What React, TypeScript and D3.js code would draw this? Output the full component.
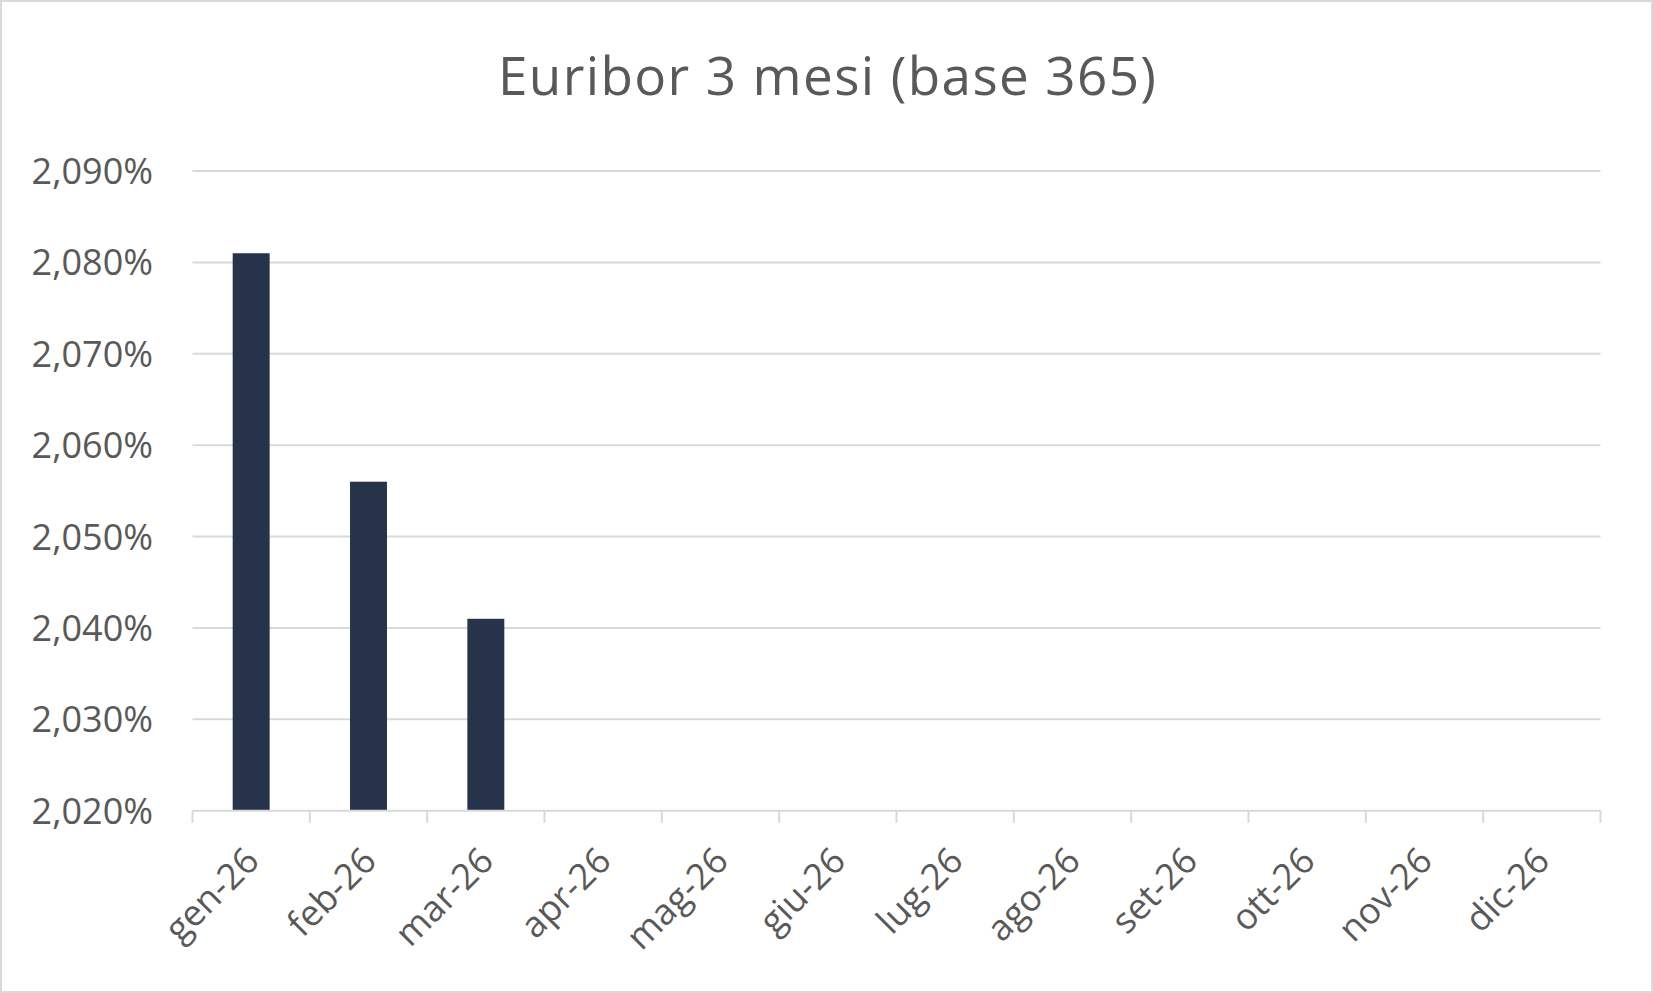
import React, { useEffect } from "react";
import * as d3 from "d3";

const title = "Euribor 3 mesi (base 365)";
const categories = ["gen-26", "feb-26", "mar-26", "apr-26", "mag-26", "giu-26", "lug-26", "ago-26", "set-26", "ott-26", "nov-26", "dic-26"];
const values: (number | null)[] = [2.081, 2.056, 2.041, null, null, null, null, null, null, null, null, null];
const yTicks = [2.02, 2.03, 2.04, 2.05, 2.06, 2.07, 2.08, 2.09];

const W = 1653;
const H = 993;
const plot = { left: 192.5, right: 1600.5, top: 171, bottom: 810.7 };
const textColor = "#595959";
const gridColor = "#d9d9d9";
const barColor = "#27334a";
const font = "'Open Sans', 'Segoe UI', sans-serif";

export default function App() {
  useEffect(() => {
    document.body.style.margin = "0";
  }, []);

  const x = d3.scaleBand<string>().domain(categories).range([plot.left, plot.right]).paddingInner(0).paddingOuter(0);
  const y = d3.scaleLinear().domain([2.02, 2.09]).range([plot.bottom, plot.top]);
  const bw = x.bandwidth() * 0.315;
  const fmt = (v: number) => d3.format(".3f")(v).replace(".", ",") + "%";
  const boundaries = categories.map((c) => x(c) as number).concat([plot.right]);

  return (
    <svg width={W} height={H} style={{ display: "block" }} fontFamily={font}>
      <rect x={1} y={1} width={W - 2} height={H - 2} fill="#ffffff" stroke={gridColor} strokeWidth={2} />
      <text x={827} y={95} textAnchor="middle" fontSize={53} fill={textColor} textLength={658} lengthAdjust="spacing">
        {title}
      </text>
      {yTicks.slice(1).map((t) => (
        <line key={t} x1={plot.left} x2={plot.right} y1={y(t)} y2={y(t)} stroke={gridColor} strokeWidth={2} />
      ))}
      {yTicks.map((t) => (
        <text key={"l" + t} x={153} y={y(t)} dy="0.36em" textAnchor="end" fontSize={36} fill={textColor}>
          {fmt(t)}
        </text>
      ))}
      {values.map((v, i) =>
        v == null ? null : (
          <rect
            key={categories[i]}
            x={(x(categories[i]) as number) + x.bandwidth() / 2 - bw / 2}
            y={y(v)}
            width={bw}
            height={y(2.02) - y(v)}
            fill={barColor}
          />
        )
      )}
      <line x1={plot.left} x2={plot.right} y1={plot.bottom} y2={plot.bottom} stroke={gridColor} strokeWidth={2} />
      {boundaries.map((bx, i) => (
        <line key={"t" + i} x1={bx} x2={bx} y1={plot.bottom} y2={plot.bottom + 12} stroke={gridColor} strokeWidth={2} />
      ))}
      {categories.map((c) => {
        const cx = (x(c) as number) + x.bandwidth() / 2;
        const ty = 845;
        return (
          <text
            key={"c" + c}
            transform={`translate(${cx - 8},${ty}) rotate(-45)`}
            textAnchor="end"
            dy="0.7em"
            fontSize={36}
            fill={textColor}
          >
            {c}
          </text>
        );
      })}
    </svg>
  );
}
